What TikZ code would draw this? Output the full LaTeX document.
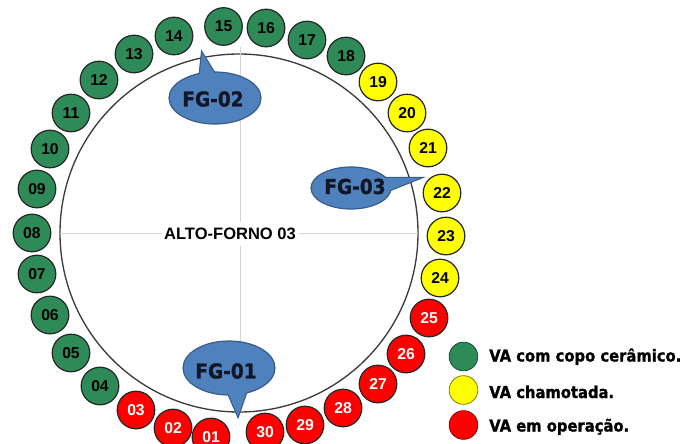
\documentclass[tikz,border=0pt]{standalone}
\usepackage{fontspec}
\setmainfont{Liberation Sans}
\newfontfamily\verd[FakeStretch=0.9,BoldFont={DejaVu Sans Bold},BoldFeatures={FakeBold=1.2}]{DejaVu Sans}
\usetikzlibrary{shapes.geometric}
\definecolor{vgreen}{RGB}{46,139,87}
\definecolor{vyellow}{RGB}{255,255,0}
\definecolor{vred}{RGB}{255,0,0}
\definecolor{fgblue}{RGB}{79,129,189}
\definecolor{fgborder}{RGB}{56,93,138}
\definecolor{fgtxt}{RGB}{16,24,40}
\definecolor{ringgray}{RGB}{60,60,60}
\definecolor{crossgray}{RGB}{212,212,212}
\begin{document}
\begin{tikzpicture}[x=0.75pt,y=-0.75pt,
  vent/.style={circle, draw=black!85, line width=0.9pt, minimum size=28.2pt, inner sep=0pt,
     font=\fontsize{11.8}{12}\selectfont\bfseries},
  gr/.style={vent, fill=vgreen, text=black},
  ye/.style={vent, fill=vyellow, text=black},
  rd/.style={vent, fill=vred, text=white},
  ringstyle/.style={circle, draw=ringgray, line width=1pt, minimum size=268.5pt, inner sep=0pt},
  cross/.style={draw=crossgray, line width=0.6pt},
  altolabel/.style={fill=white, inner xsep=2pt, inner ysep=4.5pt, font=\fontsize{12.4}{13}\selectfont\bfseries},
  fgell/.style={ellipse, fill=fgblue, draw=fgborder, line width=0.9pt, inner sep=0pt},
  fgedge/.style={draw=fgborder, line width=1.8pt, line join=miter},
  fgtext/.style={text=fgtxt, inner sep=0pt, font=\verd\fontsize{15.4}{16}\selectfont\bfseries},
  lgc/.style={circle, line width=0.6pt, minimum size=21.5pt, inner sep=0pt},
  lgtext/.style={anchor=base west, inner sep=0pt, font=\verd\fontsize{12.3}{13}\selectfont\bfseries}
]
\useasboundingbox (0,0) rectangle (685,443);
\clip (0,0) rectangle (685,443);
\fill[white] (0,0) rectangle (685,443);

% furnace ring
\node[ringstyle] (ring) at (239,233) {};

% cross lines
\coordinate (vt) at (240,47);
\coordinate (vb) at (240,368);
\coordinate (hl) at (60,233);
\coordinate (hr) at (418,233);
\draw[cross] (vt) -- (vb);
\draw[cross] (hl) -- (hr);
\node[altolabel] (alto) at (230,234) {ALTO-FORNO 03};

% callout FG-02
\coordinate (f2a) at (199.2,80);
\coordinate (f2t) at (202,53);
\coordinate (f2b) at (216.3,76);
\draw[fgedge] (f2a) -- (f2t) -- (f2b);
\node[fgell, minimum width=69pt, minimum height=39pt] (fg2) at (215,98) {};
\fill[fgblue] (f2a) -- (f2t) -- (f2b) -- cycle;
\node[fgtext] (fg2t) at (213,99) {FG-02};

% callout FG-03
\coordinate (f3a) at (383,178);
\coordinate (f3t) at (420,178);
\coordinate (f3b) at (383,192.8);
\draw[fgedge] (f3a) -- (f3t) -- (f3b);
\node[fgell, minimum width=60pt, minimum height=31.5pt] (fg3) at (351,188) {};
\fill[fgblue] (f3a) -- (f3t) -- (f3b) -- cycle;
\node[fgtext] (fg3t) at (355,186.5) {FG-03};

% callout FG-01
\coordinate (f1a) at (225.8,388);
\coordinate (f1t) at (238,416);
\coordinate (f1b) at (248.4,386);
\draw[fgedge] (f1a) -- (f1t) -- (f1b);
\node[fgell, minimum width=69pt, minimum height=40.5pt] (fg1) at (229,368) {};
\fill[fgblue] (f1a) -- (f1t) -- (f1b) -- cycle;
\node[fgtext] (fg1t) at (226,371) {FG-01};

% tuyeres
\node[rd] (v01) at (211,437) {01};
\node[rd] (v02) at (173,428) {02};
\node[rd] (v03) at (136,410) {03};
\node[gr] (v04) at (100,386) {04};
\node[gr] (v05) at (71,353) {05};
\node[gr] (v06) at (50,315) {06};
\node[gr] (v07) at (37,274) {07};
\node[gr] (v08) at (32,233) {08};
\node[gr] (v09) at (37,189) {09};
\node[gr] (v10) at (50,149) {10};
\node[gr] (v11) at (71,113) {11};
\node[gr] (v12) at (99,80) {12};
\node[gr] (v13) at (134,54) {13};
\node[gr] (v14) at (174,36) {14};
\node[gr] (v15) at (223.5,26.5) {15};
\node[gr] (v16) at (266,28) {16};
\node[gr] (v17) at (307,40) {17};
\node[gr] (v18) at (346,56) {18};
\node[ye] (v19) at (378,82) {19};
\node[ye] (v20) at (407,113) {20};
\node[ye] (v21) at (428,148) {21};
\node[ye] (v22) at (442,193) {22};
\node[ye] (v23) at (446,236) {23};
\node[ye] (v24) at (440,278) {24};
\node[rd] (v25) at (429,318) {25};
\node[rd] (v26) at (406,354) {26};
\node[rd] (v27) at (378,384) {27};
\node[rd] (v28) at (343,408) {28};
\node[rd] (v29) at (305,425) {29};
\node[rd] (v30) at (265,432) {30};

% legend
\node[lgc, fill=vgreen, draw=vgreen!55!black] (lg1) at (463.5,356.5) {};
\node[lgc, fill=vyellow, draw=vyellow!50!black] (lg2) at (463.5,390) {};
\node[lgc, fill=vred, draw=vred!55!black] (lg3) at (463.5,425) {};
\node[lgtext] (lt1) at (489,361.5) {VA com copo cerâmico.};
\node[lgtext] (lt2) at (489,398) {VA chamotada.};
\node[lgtext] (lt3) at (489,431.5) {VA em operação.};
\end{tikzpicture}
\end{document}
